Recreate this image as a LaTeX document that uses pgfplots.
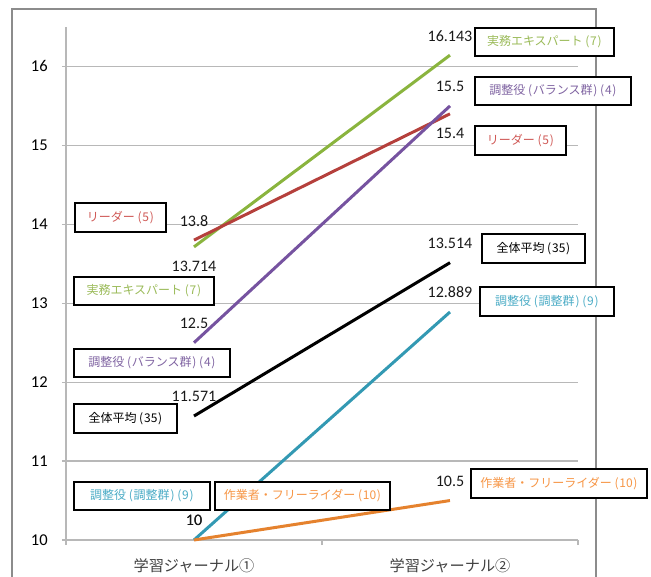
\documentclass[border=0pt]{standalone}
\usepackage{pgfplots}
\usepackage{pgfplotstable}
\pgfplotsset{compat=1.18}
\usepackage{fontspec}
\setmainfont{Carlito}
\newfontfamily\jp{Noto Sans CJK JP}

% line colours
\definecolor{cGreen}{HTML}{8AB43E}
\definecolor{cRed}{HTML}{B5403C}
\definecolor{cPurple}{HTML}{7653A0}
\definecolor{cTeal}{HTML}{3399B3}
\definecolor{cOrange}{HTML}{E5822E}
% label text colours
\definecolor{tGreen}{HTML}{9BBB59}
\definecolor{tRed}{HTML}{D05A57}
\definecolor{tPurple}{HTML}{8064A2}
\definecolor{tTeal}{HTML}{4BACC6}
\definecolor{tOrange}{HTML}{F79646}
\definecolor{frame}{HTML}{8C8C8C}
\definecolor{gridc}{HTML}{B8B8B8}

% x: journal (0 = first, 1 = second), y: mean score, off: value-label offset (pt)
\pgfplotstableread{
x y off
0 13.714 -14.6
1 16.143 14.6
}\expert
\pgfplotstableread{
x y off
0 13.8 14.6
1 15.4 -14.6
}\leader
\pgfplotstableread{
x y off
0 12.5 14.6
1 15.5 14.6
}\balance
\pgfplotstableread{
x y off
0 11.571 14.6
1 13.514 14.6
}\overall
\pgfplotstableread{
x y off
0 10 14.6
1 12.889 14.6
}\coord
\pgfplotstableread{
x y off
0 10 14.6
1 10.5 14.6
}\worker

\tikzset{lbl/.style={draw=black, line width=1.4pt, fill=white, inner sep=0pt,
  font=\jp\fontsize{9}{11}\selectfont}}
% box from (x1,y1) to (x2,y2), measured from the top-left corner
\newcommand\lbox[6]{%
  \node[lbl, text=#5, anchor=north west,
    minimum width={(#3-#1)*0.75pt}, minimum height={(#4-#2)*0.75pt}]
    at ({#1},{576-#2}) {#6};}
% spaced parentheses
\newcommand\op{\kern2pt(\kern0.6pt}
\newcommand\cp{\kern0.6pt)}

\pgfplotsset{vlab/.style={line width=2.25pt,
    nodes near coords, point meta=explicit,
    visualization depends on={\thisrow{off} \as \off},
    every node near coord/.append style={anchor=center, yshift=\off,
      font=\fontsize{12}{14}\selectfont, text=black!90, inner sep=0pt}}}

\begin{document}
\begin{tikzpicture}
\useasboundingbox (0,0) rectangle (488.25pt,432pt);
% chart frame
\draw[frame, line width=1.5pt] (9pt,-5pt) -- (9pt,425.25pt) -- (447pt,425.25pt) -- (447pt,-5pt);

\begin{axis}[
  at={(49.5pt,27pt)}, anchor=south west,
  scale only axis, width=384pt, height=384.75pt,
  xmin=-0.5, xmax=1.5, ymin=10, ymax=16.5,
  axis x line*=bottom, axis y line*=left,
  axis line style={-, draw=gridc, line width=0.9pt},
  xtick={0,1},
  xticklabels={学習ジャーナル①, 学習ジャーナル②},
  major x tick style={draw=none},
  minor xtick={-0.5,0.5,1.5},
  minor x tick style={draw=gridc, line width=0.9pt},
  minor tick length=3.75pt,
  ytick={10,11,...,16},
  major tick length=3pt,
  tick align=outside,
  y tick style={draw=gridc, line width=0.9pt},
  ymajorgrids, grid style={draw=gridc, line width=0.9pt},
  xticklabel style={font=\jp\fontsize{11.4}{13}\selectfont, text=black!75,
    anchor=center, inner sep=0pt, yshift=-16.5pt},
  yticklabel style={font=\fontsize{12.4}{14}\selectfont, text=black,
    anchor=east, inner sep=0pt, xshift=-10.5pt},
  /pgf/number format/assume math mode=true,
  /pgf/number format/precision=3,
  clip=false,
]
\addplot[cGreen, vlab] table[x=x, y=y, meta=y] {\expert};
\addplot[cRed, vlab] table[x=x, y=y, meta=y] {\leader};
\addplot[cPurple, vlab] table[x=x, y=y, meta=y] {\balance};
\addplot[black, vlab] table[x=x, y=y, meta=y] {\overall};
\addplot[cTeal, vlab] table[x=x, y=y, meta=y] {\coord};
\addplot[cOrange, vlab] table[x=x, y=y, meta=y] {\worker};
\end{axis}

\begin{scope}[x=0.75pt, y=0.75pt]
% series labels beside the first journal
\lbox{74}{202}{165}{231}{tRed}{リーダー\op5\cp}
\lbox{73}{276}{213}{304}{tGreen}{実務エキスパート\op7\cp}
\lbox{73}{348}{229}{376}{tPurple}{調整役\op バランス群\cp\op4\cp}
\lbox{73}{403}{176}{432}{black}{全体平均\op35\cp}
\lbox{73}{481}{209}{509}{tTeal}{調整役\op 調整群\cp\op9\cp}
\lbox{214}{481}{389}{509}{tOrange}{作業者・フリーライダー\op10\cp}
% series labels beside the second journal
\lbox{474}{27}{613}{55}{tGreen}{実務エキスパート\op7\cp}
\lbox{474}{76}{630}{104}{tPurple}{調整役\op バランス群\cp\op4\cp}
\lbox{474}{125}{565}{154}{tRed}{リーダー\op5\cp}
\lbox{481}{233}{584}{262}{black}{全体平均\op35\cp}
\lbox{479}{286}{613}{315}{tTeal}{調整役\op 調整群\cp\op9\cp}
\lbox{470}{468}{646}{497}{tOrange}{作業者・フリーライダー\op10\cp}
\end{scope}
\end{tikzpicture}
\end{document}
